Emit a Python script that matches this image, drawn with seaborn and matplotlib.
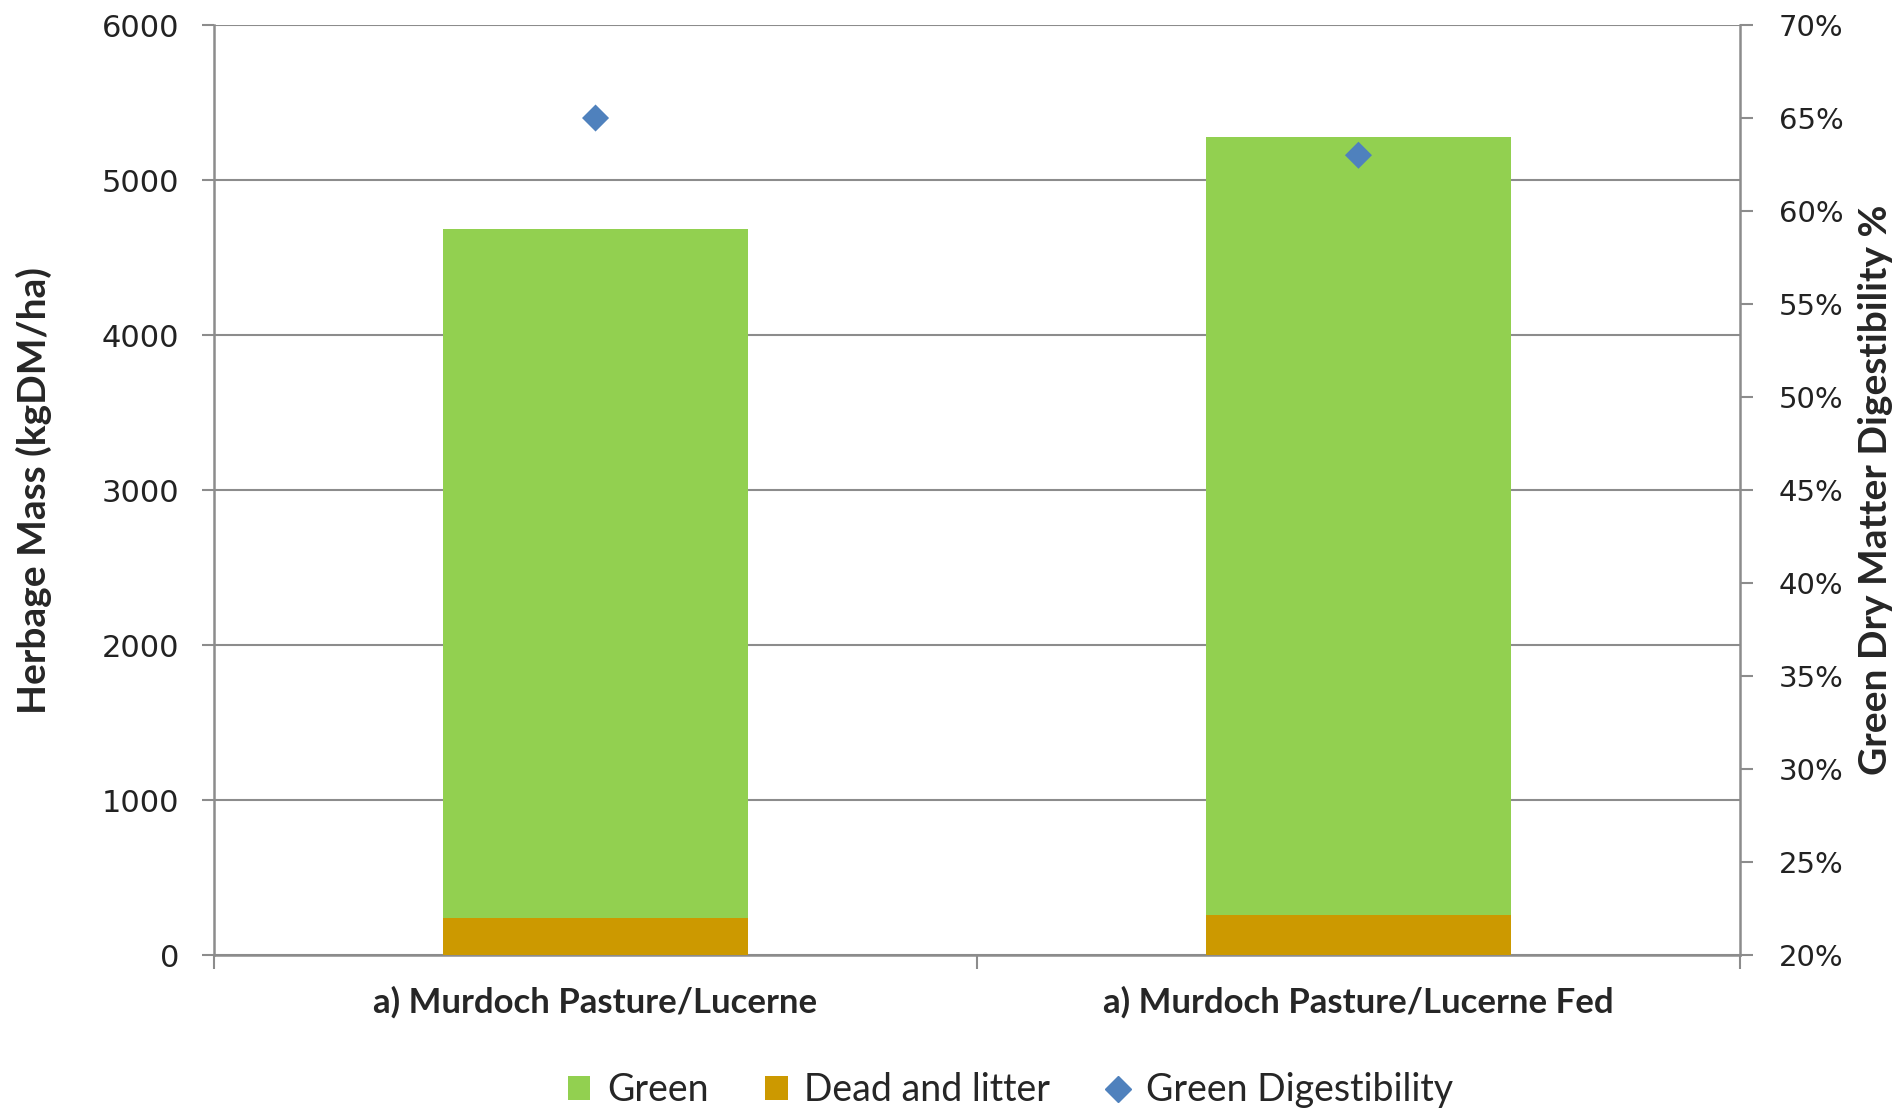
import numpy as np
import pandas as pd
import matplotlib
matplotlib.use("Agg")
import matplotlib.pyplot as plt
from matplotlib.patches import Patch
from matplotlib.lines import Line2D
from matplotlib.ticker import FixedLocator, PercentFormatter
import seaborn as sns

# Données
categories = ["a) Murdoch Pasture/Lucerne", "a) Murdoch Pasture/Lucerne Fed"]
green = [4444, 5015]
dead = [238, 260]
digestibility = [65.0, 63.0]

green_col = "#92D050"
dead_col = "#CC9900"
diam_col = "#4F81BD"
grid_col = "#8C8C8C"
label_font = ["Lato", "DejaVu Sans"]

sns.set_style("white")
plt.rcParams["font.family"] = ["DejaVu Sans"]

df = pd.DataFrame({"cat": categories, "green": green, "dead": dead,
                   "dig": digestibility})
df["total"] = df["green"] + df["dead"]

fig = plt.figure(figsize=(19.03, 11.17), dpi=100)
ax = fig.add_axes([0.1125, 0.145, 0.8018, 0.8326])

# Barres empilées : total (vert) puis mort/litière par-dessus
sns.barplot(data=df, x="cat", y="total", color=green_col, width=0.4,
            saturation=1, linewidth=0, ax=ax, zorder=2)
sns.barplot(data=df, x="cat", y="dead", color=dead_col, width=0.4,
            saturation=1, linewidth=0, ax=ax, zorder=3)

ax.set_xlim(-0.5, 1.5)
ax.set_ylim(0, 6000)
ax.set_yticks(np.arange(0, 6001, 1000))
ax.yaxis.grid(True, color=grid_col, linewidth=1.5, zorder=0)
ax.set_axisbelow(True)
for s in ["top", "right"]:
    ax.spines[s].set_visible(False)
for s in ["left", "bottom"]:
    ax.spines[s].set_color(grid_col)
    ax.spines[s].set_linewidth(1.8)

ax.tick_params(axis="y", length=9, width=1.5, color=grid_col, pad=16,
               labelsize=22, labelcolor="#222222", direction="out", left=True)
ax.tick_params(axis="x", which="major", length=0, pad=22)
ax.xaxis.set_minor_locator(FixedLocator([-0.5, 0.5, 1.5]))
ax.tick_params(axis="x", which="minor", length=10, width=1.5,
               color=grid_col, direction="out", bottom=True)
for lab in ax.get_xticklabels():
    lab.set_fontweight("bold")
    lab.set_fontsize(25)
    lab.set_family(label_font)
ax.set_xlabel("")
ax.set_ylabel("Herbage Mass (kgDM/ha)", fontsize=28, fontweight="bold",
              family=label_font, labelpad=36)

# Axe secondaire : digestibilité
ax2 = ax.twinx()
sns.scatterplot(data=df, x="cat", y="dig", marker="D", s=190,
                color=diam_col, edgecolor="none", ax=ax2, zorder=5,
                legend=False)
ax2.set_xlim(-0.5, 1.5)
ax2.set_ylim(20, 70)
ax2.set_yticks(np.arange(20, 71, 5))
ax2.yaxis.set_major_formatter(PercentFormatter(decimals=0))
for s in ["top", "left", "bottom"]:
    ax2.spines[s].set_visible(False)
ax2.spines["right"].set_color(grid_col)
ax2.spines["right"].set_linewidth(1.8)
ax2.tick_params(axis="y", length=9, width=1.5, color=grid_col, pad=19,
                labelsize=21, labelcolor="#222222", direction="out", right=True)
ax2.set_ylabel("Green Dry Matter Digestibility %", fontsize=28,
               fontweight="bold", family=label_font,
               rotation=90, labelpad=10)
ax2.set_xlabel("")

handles = [
    Patch(facecolor=green_col, edgecolor="none", label="Green"),
    Patch(facecolor=dead_col, edgecolor="none", label="Dead and litter"),
    Line2D([], [], marker="D", linestyle="none", markersize=13,
           color=diam_col, label="Green Digestibility"),
]
fig.legend(handles=handles, loc="center", bbox_to_anchor=(0.531, 0.024),
           ncol=3, frameon=False, handlelength=0.6, handleheight=0.6,
           handletextpad=0.45, columnspacing=1.5,
           prop={"family": label_font, "size": 27})

fig.savefig("out.png", dpi=100)
